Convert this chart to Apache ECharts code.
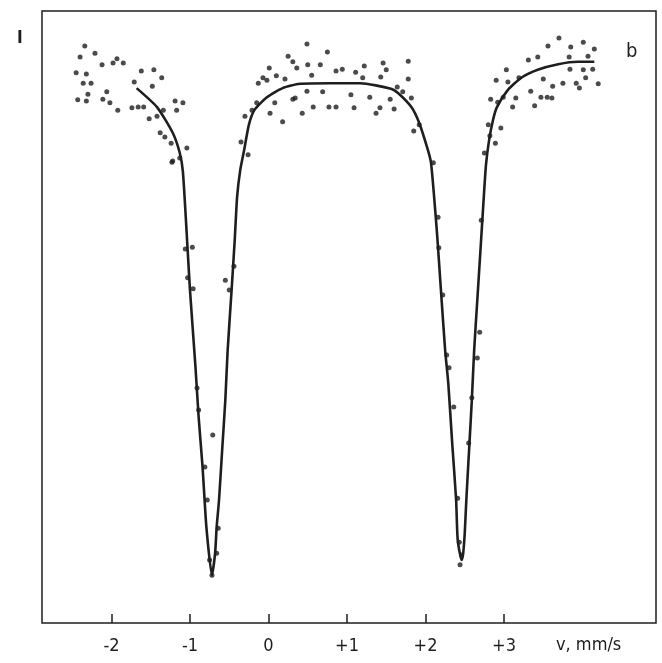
<!DOCTYPE html>
<html>
<head>
<meta charset="utf-8">
<script src="https://cdn.jsdelivr.net/npm/echarts@6/dist/echarts.min.js"></script>
<style>
  html, body { margin: 0; padding: 0; background: #fff; }
  #chart { width: 662px; height: 663px; }
</style>
</head>
<body>
<div id="chart"></div>
<script>
// velocity ticks, mm/s
var tickV = [-2, -1, 0, 1, 2, 3];

// fitted curve (velocity, relative intensity)
var fitV = [-1.68, -1.42, -1.22, -1.13, -1.09, -1.03, -1.00, -0.93, -0.89, -0.84, -0.79, -0.72,
  -0.68, -0.66, -0.63, -0.59, -0.55, -0.52, -0.47, -0.43, -0.40, -0.36, -0.31, -0.25, -0.18,
  -0.02, 0.18, 0.40, 0.78, 1.17, 1.56, 1.65, 1.82, 1.92, 2.03, 2.07, 2.11, 2.15, 2.19, 2.25,
  2.29, 2.34, 2.39, 2.41, 2.46, 2.48, 2.50, 2.52, 2.56, 2.59, 2.62, 2.66, 2.70, 2.74, 2.77,
  2.81, 2.86, 2.91, 3.05, 3.22, 3.43, 3.69, 3.94, 4.15];
var fitI = [87.4, 84.3, 80.1, 76.8, 73.7, 61.0, 54.4, 41.8, 33.7, 25.5, 15.5, 7.8,
  11.4, 15.7, 20.1, 28.3, 36.4, 44.6, 54.4, 62.6, 69.6, 74.0, 77.3, 81.4, 83.8,
  85.9, 87.4, 88.1, 88.2, 88.2, 87.3, 86.6, 84.3, 81.7, 77.3, 75.2, 69.6, 63.1, 55.6, 44.6,
  39.2, 29.4, 20.1, 13.6, 10.3, 11.4, 14.7, 20.1, 29.4, 36.4, 44.6, 52.8, 60.9, 69.1, 74.8,
  78.9, 82.2, 84.3, 87.1, 89.1, 90.4, 91.3, 91.7, 91.7];

// measured points
var dotV = [-2.34, -2.40, -2.21, -2.45, -2.12, -1.98, -1.93, -1.85, -2.36, -2.26, -2.30, -2.43,
  -2.32, -2.06, -2.11, -2.02, -1.92, -1.74, -1.66, -1.59, -1.71, -1.62, -1.46, -1.36, -1.48,
  -1.52, -1.42, -1.34, -1.38, -1.32, -1.24, -1.19, -1.09, -1.17, -1.04, -1.22, -1.13, -2.32,
  -1.23, -1.06, -0.97, -1.03, -0.96, -0.55, -0.44, -0.50, -0.91, -0.89, -0.71, -0.81, -0.78,
  -0.66, -0.75, -0.72, -0.64, -0.26,
  -0.30, -0.35, -0.21, -0.15, -0.13, -0.07, 0.01, -0.02, 0.10, 0.21, 0.25, 0.31, 0.36, 0.49,
  0.50, 0.55, 0.66, 0.75, 0.31, 0.34, 0.43, 0.57, 0.49, 0.69, 0.77, 0.02, 0.08, 0.18,
  0.86, 0.94, 1.11, 1.22, 1.20, 1.46, 1.50, 1.43, 1.78, 1.78, 0.86, 1.05, 1.09, 1.29, 1.37,
  1.42, 1.60, 1.55, 1.64, 1.71, 1.82, 1.85, 1.92, 2.10,
  2.16, 2.17, 2.22, 2.27, 2.30, 2.36, 2.41, 2.43, 2.46, 2.44, 2.55, 2.59, 2.66, 2.69, 2.71,
  2.83, 2.90, 3.03, 3.05, 3.19, 3.31, 3.43, 3.56, 3.70, 3.85, 4.01, 4.15, 3.83, 4.07, 3.50,
  3.62, 3.75, 3.84, 4.01, 4.13, 4.04, 3.92, 3.96, 4.20, 3.34, 3.47, 3.55, 3.61, 3.39, 3.11,
  3.15, 2.99, 2.92, 2.80, 2.96, 2.82, 2.89, 2.75];
var dotI = [94.3, 92.5, 93.1, 89.9, 91.2, 91.5, 92.2, 91.5, 88.2, 88.2, 86.4, 85.5,
  85.3, 86.8, 85.6, 85.0, 83.8, 84.2, 84.3, 84.3, 88.4, 90.2, 90.4, 89.1, 87.7,
  82.4, 82.8, 83.8, 80.1, 79.4, 78.4, 85.3, 85.0, 83.8, 77.6, 75.5, 76.0, 89.7,
  75.3, 61.1, 61.4, 56.4, 54.6, 56.0, 58.3, 54.4, 38.4, 34.8, 30.7, 25.5, 20.1,
  11.4, 10.3, 7.8, 15.5, 76.5,
  82.8, 78.6, 83.8, 85.0, 88.2, 89.1, 90.7, 88.7, 89.4, 88.9, 92.6, 91.7, 90.7, 94.6,
  91.2, 89.5, 91.2, 93.3, 85.6, 85.8, 83.3, 84.3, 86.9, 86.8, 84.3, 83.3, 85.0, 81.9,
  90.2, 90.5, 90.0, 91.0, 89.1, 91.5, 90.4, 89.2, 91.8, 88.9, 84.3, 86.3, 84.2, 85.9, 83.3,
  84.2, 84.0, 85.6, 87.6, 86.8, 85.8, 80.4, 81.4, 75.2,
  66.3, 61.3, 53.6, 43.8, 41.7, 35.3, 20.4, 13.2, 11.1, 9.5, 29.4, 36.8, 43.3, 47.5, 65.8,
  85.6, 88.7, 90.4, 88.4, 89.1, 92.0, 92.5, 94.3, 95.6, 94.1, 94.9, 93.8, 92.5, 92.6, 88.9,
  87.7, 88.2, 90.5, 90.4, 90.5, 89.1, 88.2, 87.4, 88.1, 86.9, 85.9, 85.9, 85.8, 84.5, 84.3,
  85.8, 85.9, 85.1, 81.4, 80.9, 79.6, 78.4, 76.8];

var ink = '#1e1e1e';
var font = '"DejaVu Sans Condensed", "Liberation Sans Narrow", sans-serif';

var chart = echarts.init(document.getElementById('chart'));
chart.setOption({
  backgroundColor: '#fff',
  animation: false,
  grid: {
    left: 42, right: 6, top: 11, bottom: 40,
    show: true, borderColor: ink, borderWidth: 1.5
  },
  xAxis: {
    type: 'value',
    min: -2.885,
    max: 4.936,
    axisLine: { show: false },
    splitLine: { show: false },
    axisTick: {
      show: true, inside: true, length: 9,
      customValues: tickV,
      lineStyle: { color: ink, width: 1.5 }
    },
    axisLabel: {
      customValues: tickV,
      margin: 14,
      color: ink,
      fontSize: 18,
      fontFamily: font,
      formatter: function (v) { return v > 0 ? '+' + v : String(v); }
    }
  },
  yAxis: {
    type: 'value',
    min: 0,
    max: 100,
    axisLine: { show: false },
    axisTick: { show: false },
    axisLabel: { show: false },
    splitLine: { show: false }
  },
  graphic: [
    { type: 'text', left: 17, top: 30,
      style: { text: 'I', fill: ink, font: 'bold 17px ' + font } },
    { type: 'text', left: 626, top: 42,
      style: { text: 'b', fill: ink, font: '20px ' + font } },
    { type: 'text', left: 556, top: 636,
      style: { text: 'v, mm/s', fill: ink, font: '18px ' + font } }
  ],
  series: [
    {
      type: 'scatter',
      data: dotV.map(function (v, i) { return [v, dotI[i]]; }),
      symbol: 'circle',
      symbolSize: 5,
      itemStyle: { color: ink }
    },
    {
      type: 'line',
      data: fitV.map(function (v, i) { return [v, fitI[i]]; }),
      showSymbol: false,
      smooth: 0.2,
      lineStyle: { color: ink, width: 2.6 }
    }
  ]
});
</script>
</body>
</html>
